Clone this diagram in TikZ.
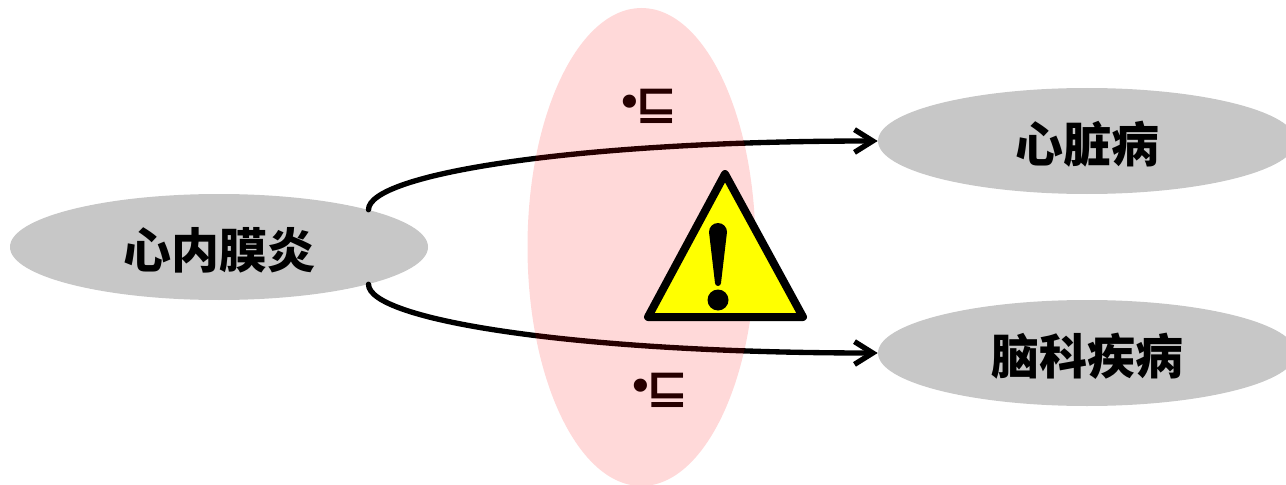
\documentclass[tikz,border=0pt]{standalone}
\usepackage{fontspec}
\usepackage{xcolor}
\usepackage{tikz}
\usetikzlibrary{
  arrows.meta,
  shapes.geometric,
  positioning,
  calc
}
\newfontfamily\cjkfont{Noto Sans CJK SC}
\newfontfamily\symfont{DejaVu Sans}
\newfontfamily\symboldfont[FakeStretch=1.15]{DejaVu Sans Bold}
\definecolor{dzGrey}{HTML}{C7C7C7}
\definecolor{dzYellow}{HTML}{FFFF00}
\tikzset{
  disease/.style={
    ellipse, fill=dzGrey, minimum width=418*0.75pt, minimum height=106*0.75pt,
    inner sep=0pt, text height=36pt, text depth=4pt,
    font=\cjkfont\bfseries\fontsize{36}{40}\selectfont
  },
  risk/.style={-{Straight Barb[length=4.8mm,width=6mm,line width=4pt]}, line width=4pt, line cap=round, black},
  zone/.style={
    ellipse, fill=red, fill opacity=0.15, minimum width=228*0.75pt, minimum height=478*0.75pt,
    inner sep=0pt
  },
  marktext/.style={inner sep=0pt, font=\symfont\fontsize{34}{42}\selectfont},
  warn/.style={draw=black, fill=dzYellow, line width=6pt, line join=round}
}
\begin{document}
\begin{tikzpicture}[x=0.75pt,y=-0.75pt]
  \useasboundingbox (0,0) rectangle (1286,485);
  \node[disease] (endo) at (219,247) {心内膜炎};
  \node[disease] (heart) at (1087,141) {心脏病};
  \node[disease] (brain) at (1087,353) {脑科疾病};
  \draw[risk] (endo.14) .. controls +(0,-36) and +(-300,0) .. (heart.west);
  \draw[risk] (endo.-14) .. controls +(0,36) and +(-300,0) .. (brain.west);
  \node[marktext] (upper) at (647,106) {•\hspace{-.16em}{\symboldfont\fontsize{33}{40}\selectfont ⊑}};
  \node[marktext] (lower) at (658,390) {•\hspace{-.16em}{\symboldfont\fontsize{33}{40}\selectfont ⊑}};
  \node[zone] (band) at (641.5,247) {};
  % warning sign
  \draw[warn] (725,174) -- (803,317) -- (648,317) -- cycle;
  \fill (709,232) arc[start angle=180,end angle=360,radius=9] -- (721,283) arc[start angle=0,end angle=180,radius=3] -- cycle;
  \fill (718,300) circle[radius=10.5];
\end{tikzpicture}
\end{document}
